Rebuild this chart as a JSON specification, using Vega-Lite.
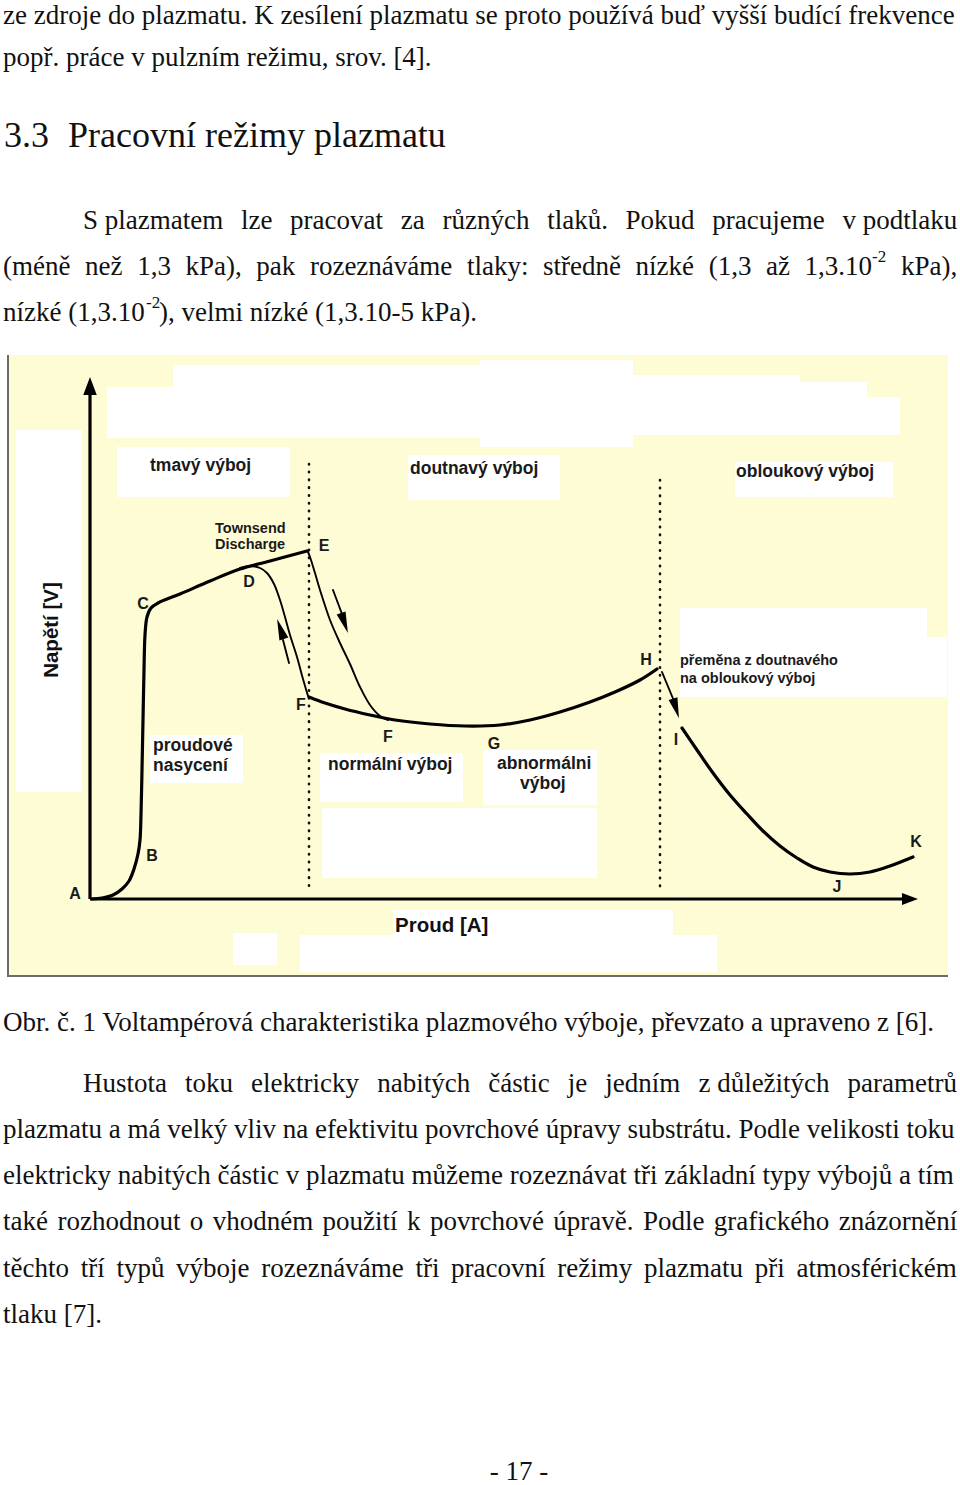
{
  "$schema": "https://vega.github.io/schema/vega-lite/v6.json",
  "width": 960,
  "height": 1485,
  "autosize": {"type": "none"},
  "padding": 0,
  "background": "#ffffff",
  "config": {"view": {"stroke": null}},
  "encoding": {
    "x": {"field": "x", "type": "quantitative", "scale": {"domain": [0, 960], "nice": false, "zero": false}, "axis": null},
    "y": {"field": "y", "type": "quantitative", "scale": {"domain": [0, 1485], "reverse": true, "nice": false, "zero": false}, "axis": null}
  },
  "layer": [
    {
      "data": {"values": [{"x": 9, "x2": 948, "y": 355, "y2": 976}]},
      "mark": {"type": "rect", "color": "#FEFCD5"},
      "encoding": {"x2": {"field": "x2"}, "y2": {"field": "y2"}}
    },
    {
      "data": {"values": [
        {"x": 107, "x2": 480, "y": 387, "y2": 438},
        {"x": 173, "x2": 480, "y": 365, "y2": 390},
        {"x": 480, "x2": 633, "y": 360, "y2": 447},
        {"x": 633, "x2": 800, "y": 375, "y2": 435},
        {"x": 800, "x2": 867, "y": 382, "y2": 435},
        {"x": 867, "x2": 900, "y": 397, "y2": 435},
        {"x": 117, "x2": 290, "y": 447, "y2": 497},
        {"x": 408, "x2": 560, "y": 455, "y2": 500},
        {"x": 735, "x2": 893, "y": 462, "y2": 497},
        {"x": 16, "x2": 82, "y": 430, "y2": 792},
        {"x": 680, "x2": 927, "y": 608, "y2": 637},
        {"x": 680, "x2": 947, "y": 637, "y2": 697},
        {"x": 150, "x2": 243, "y": 735, "y2": 783},
        {"x": 320, "x2": 463, "y": 753, "y2": 802},
        {"x": 483, "x2": 597, "y": 750, "y2": 805},
        {"x": 322, "x2": 597, "y": 808, "y2": 878},
        {"x": 393, "x2": 673, "y": 910, "y2": 937},
        {"x": 300, "x2": 717, "y": 935, "y2": 972},
        {"x": 233, "x2": 277, "y": 933, "y2": 965}
      ]},
      "mark": {"type": "rect", "color": "#ffffff"},
      "encoding": {"x2": {"field": "x2"}, "y2": {"field": "y2"}}
    },
    {
      "data": {"values": [
        {"x": 8, "x2": 8, "y": 355, "y2": 977},
        {"x": 8, "x2": 948, "y": 976, "y2": 976}
      ]},
      "mark": {"type": "rule", "color": "#6b6b6b", "strokeWidth": 2},
      "encoding": {"x2": {"field": "x2"}, "y2": {"field": "y2"}}
    },
    {
      "data": {"values": [
        {"x": 309, "x2": 309, "y": 464, "y2": 892},
        {"x": 660, "x2": 660, "y": 480, "y2": 892}
      ]},
      "mark": {"type": "rule", "color": "#111111", "strokeWidth": 2.6, "strokeCap": "round", "strokeDash": [0.5, 7.3]},
      "encoding": {"x2": {"field": "x2"}, "y2": {"field": "y2"}}
    },
    {
      "data": {"values": [
        {"x": 90, "x2": 90, "y": 899, "y2": 392},
        {"x": 90, "x2": 904, "y": 899, "y2": 899}
      ]},
      "mark": {"type": "rule", "color": "#000000", "strokeWidth": 3.2},
      "encoding": {"x2": {"field": "x2"}, "y2": {"field": "y2"}}
    },
    {
      "data": {"values": [
        {"s": "AE", "o": 1, "x": 92, "y": 899},
        {"s": "AE", "o": 2, "x": 102, "y": 898},
        {"s": "AE", "o": 3, "x": 113, "y": 895},
        {"s": "AE", "o": 4, "x": 122, "y": 889},
        {"s": "AE", "o": 5, "x": 129, "y": 881},
        {"s": "AE", "o": 6, "x": 134, "y": 869},
        {"s": "AE", "o": 7, "x": 138, "y": 854},
        {"s": "AE", "o": 8, "x": 140, "y": 840},
        {"s": "AE", "o": 9, "x": 141, "y": 815},
        {"s": "AE", "o": 10, "x": 142, "y": 770},
        {"s": "AE", "o": 11, "x": 143, "y": 720},
        {"s": "AE", "o": 12, "x": 144, "y": 670},
        {"s": "AE", "o": 13, "x": 145, "y": 635},
        {"s": "AE", "o": 14, "x": 147, "y": 617},
        {"s": "AE", "o": 15, "x": 151, "y": 608},
        {"s": "AE", "o": 16, "x": 158, "y": 603},
        {"s": "AE", "o": 17, "x": 180, "y": 594},
        {"s": "AE", "o": 18, "x": 210, "y": 581},
        {"s": "AE", "o": 19, "x": 240, "y": 569},
        {"s": "AE", "o": 20, "x": 270, "y": 561},
        {"s": "AE", "o": 21, "x": 307, "y": 551},
        {"s": "FH", "o": 1, "x": 309, "y": 697},
        {"s": "FH", "o": 2, "x": 325, "y": 703},
        {"s": "FH", "o": 3, "x": 345, "y": 709},
        {"s": "FH", "o": 4, "x": 370, "y": 715},
        {"s": "FH", "o": 5, "x": 395, "y": 720},
        {"s": "FH", "o": 6, "x": 430, "y": 724},
        {"s": "FH", "o": 7, "x": 465, "y": 726},
        {"s": "FH", "o": 8, "x": 500, "y": 725},
        {"s": "FH", "o": 9, "x": 530, "y": 720},
        {"s": "FH", "o": 10, "x": 560, "y": 712},
        {"s": "FH", "o": 11, "x": 590, "y": 702},
        {"s": "FH", "o": 12, "x": 615, "y": 692},
        {"s": "FH", "o": 13, "x": 640, "y": 680},
        {"s": "FH", "o": 14, "x": 657, "y": 669},
        {"s": "IK", "o": 1, "x": 682, "y": 728},
        {"s": "IK", "o": 2, "x": 697, "y": 750},
        {"s": "IK", "o": 3, "x": 713, "y": 773},
        {"s": "IK", "o": 4, "x": 730, "y": 795},
        {"s": "IK", "o": 5, "x": 747, "y": 814},
        {"s": "IK", "o": 6, "x": 763, "y": 831},
        {"s": "IK", "o": 7, "x": 780, "y": 846},
        {"s": "IK", "o": 8, "x": 797, "y": 858},
        {"s": "IK", "o": 9, "x": 813, "y": 867},
        {"s": "IK", "o": 10, "x": 830, "y": 872},
        {"s": "IK", "o": 11, "x": 850, "y": 874},
        {"s": "IK", "o": 12, "x": 870, "y": 872},
        {"s": "IK", "o": 13, "x": 890, "y": 866},
        {"s": "IK", "o": 14, "x": 913, "y": 857}
      ]},
      "mark": {"type": "line", "color": "#000000", "strokeWidth": 3.2, "interpolate": "catmull-rom", "strokeCap": "round", "strokeJoin": "round"},
      "encoding": {"order": {"field": "o", "type": "quantitative"}, "detail": {"field": "s"}}
    },
    {
      "data": {"values": [
        {"s": "EF", "o": 1, "x": 308, "y": 552},
        {"s": "EF", "o": 2, "x": 310, "y": 557},
        {"s": "EF", "o": 3, "x": 315, "y": 573},
        {"s": "EF", "o": 4, "x": 320, "y": 590},
        {"s": "EF", "o": 5, "x": 330, "y": 620},
        {"s": "EF", "o": 6, "x": 340, "y": 643},
        {"s": "EF", "o": 7, "x": 350, "y": 664},
        {"s": "EF", "o": 8, "x": 360, "y": 687},
        {"s": "EF", "o": 9, "x": 370, "y": 705},
        {"s": "EF", "o": 10, "x": 380, "y": 716},
        {"s": "EF", "o": 11, "x": 388, "y": 720},
        {"s": "DF", "o": 1, "x": 240, "y": 568},
        {"s": "DF", "o": 2, "x": 250, "y": 566},
        {"s": "DF", "o": 3, "x": 260, "y": 568},
        {"s": "DF", "o": 4, "x": 267, "y": 573},
        {"s": "DF", "o": 5, "x": 274, "y": 584},
        {"s": "DF", "o": 6, "x": 280, "y": 600},
        {"s": "DF", "o": 7, "x": 285, "y": 617},
        {"s": "DF", "o": 8, "x": 290, "y": 635},
        {"s": "DF", "o": 9, "x": 297, "y": 657},
        {"s": "DF", "o": 10, "x": 303, "y": 679},
        {"s": "DF", "o": 11, "x": 308, "y": 696},
        {"s": "aE", "o": 1, "x": 333, "y": 590},
        {"s": "aE", "o": 2, "x": 342, "y": 614},
        {"s": "aD", "o": 1, "x": 289, "y": 663},
        {"s": "aD", "o": 2, "x": 283, "y": 640},
        {"s": "aH", "o": 1, "x": 662, "y": 672},
        {"s": "aH", "o": 2, "x": 674, "y": 701}
      ]},
      "mark": {"type": "line", "color": "#000000", "strokeWidth": 1.9, "interpolate": "catmull-rom", "strokeCap": "round"},
      "encoding": {"order": {"field": "o", "type": "quantitative"}, "detail": {"field": "s"}}
    },
    {
      "data": {"values": [{"id": "yaxis", "x": 90, "y": 386}]},
      "mark": {"type": "point", "shape": "M0,-1L0.75,1L-0.75,1Z", "filled": true, "color": "#000000", "opacity": 1, "size": 324, "angle": 0}
    },
    {
      "data": {"values": [{"id": "xaxis", "x": 910, "y": 899}]},
      "mark": {"type": "point", "shape": "M0,-1L0.75,1L-0.75,1Z", "filled": true, "color": "#000000", "opacity": 1, "size": 256, "angle": 90}
    },
    {
      "data": {"values": [{"id": "arrE", "x": 344.5, "y": 623}]},
      "mark": {"type": "point", "shape": "M0,-1L0.45,1L-0.45,1Z", "filled": true, "color": "#000000", "opacity": 1, "size": 440, "angle": 161}
    },
    {
      "data": {"values": [{"id": "arrD", "x": 280.5, "y": 629}]},
      "mark": {"type": "point", "shape": "M0,-1L0.45,1L-0.45,1Z", "filled": true, "color": "#000000", "opacity": 1, "size": 440, "angle": 341}
    },
    {
      "data": {"values": [{"id": "arrH", "x": 676, "y": 708.5}]},
      "mark": {"type": "point", "shape": "M0,-1L0.45,1L-0.45,1Z", "filled": true, "color": "#000000", "opacity": 1, "size": 420, "angle": 163}
    },
    {
      "data": {"values": [
        {"t": "ze zdroje do plazmatu. K zesílení plazmatu se proto používá buď vyšší budící frekvence", "x": 3, "y": 24},
        {"t": "popř. práce v pulzním režimu, srov. [4].", "x": 3, "y": 66},
        {"t": "S plazmatem", "x": 83, "y": 229},
        {"t": "lze", "x": 240.9, "y": 229},
        {"t": "pracovat", "x": 290.1, "y": 229},
        {"t": "za", "x": 400.8, "y": 229},
        {"t": "různých", "x": 442.5, "y": 229},
        {"t": "tlaků.", "x": 547.2, "y": 229},
        {"t": "Pokud", "x": 625.6, "y": 229},
        {"t": "pracujeme", "x": 712.3, "y": 229},
        {"t": "v podtlaku", "x": 842.5, "y": 229},
        {"t": "(méně", "x": 3, "y": 275},
        {"t": "než", "x": 85.1, "y": 275},
        {"t": "1,3", "x": 137.2, "y": 275},
        {"t": "kPa),", "x": 185.5, "y": 275},
        {"t": "pak", "x": 256.3, "y": 275},
        {"t": "rozeznáváme", "x": 309.9, "y": 275},
        {"t": "tlaky:", "x": 466.9, "y": 275},
        {"t": "středně", "x": 543.0, "y": 275},
        {"t": "nízké", "x": 635.6, "y": 275},
        {"t": "(1,3", "x": 708.7, "y": 275},
        {"t": "až", "x": 766.0, "y": 275},
        {"t": "1,3.10", "x": 804.6, "y": 275},
        {"t": "kPa),", "x": 900.9, "y": 275},
        {"t": "nízké (1,3.10", "x": 3, "y": 321},
        {"t": "), velmi nízké (1,3.10-5 kPa).", "x": 159, "y": 321},
        {"t": "Obr. č. 1 Voltampérová charakteristika plazmového výboje, převzato a upraveno z [6].", "x": 3, "y": 1031},
        {"t": "Hustota", "x": 83, "y": 1092},
        {"t": "toku", "x": 185.1, "y": 1092},
        {"t": "elektricky", "x": 251.1, "y": 1092},
        {"t": "nabitých", "x": 377.2, "y": 1092},
        {"t": "částic", "x": 488.2, "y": 1092},
        {"t": "je", "x": 567.8, "y": 1092},
        {"t": "jedním", "x": 605.3, "y": 1092},
        {"t": "z důležitých", "x": 698.4, "y": 1092},
        {"t": "parametrů", "x": 847.6, "y": 1092},
        {"t": "plazmatu a má velký vliv na efektivitu povrchové úpravy substrátu. Podle velikosti toku", "x": 3, "y": 1138},
        {"t": "elektricky nabitých částic v plazmatu můžeme rozeznávat tři základní typy výbojů a tím", "x": 3, "y": 1184},
        {"t": "také", "x": 3, "y": 1230},
        {"t": "rozhodnout", "x": 57.4, "y": 1230},
        {"t": "o", "x": 189.8, "y": 1230},
        {"t": "vhodném", "x": 212.7, "y": 1230},
        {"t": "použití", "x": 322.6, "y": 1230},
        {"t": "k", "x": 407.0, "y": 1230},
        {"t": "povrchové", "x": 429.9, "y": 1230},
        {"t": "úpravě.", "x": 553.3, "y": 1230},
        {"t": "Podle", "x": 642.9, "y": 1230},
        {"t": "grafického", "x": 713.8, "y": 1230},
        {"t": "znázornění", "x": 838.7, "y": 1230},
        {"t": "těchto", "x": 3, "y": 1277},
        {"t": "tří", "x": 80.7, "y": 1277},
        {"t": "typů", "x": 116.4, "y": 1277},
        {"t": "výboje", "x": 176.1, "y": 1277},
        {"t": "rozeznáváme", "x": 261.3, "y": 1277},
        {"t": "tři", "x": 415.4, "y": 1277},
        {"t": "pracovní", "x": 451.1, "y": 1277},
        {"t": "režimy", "x": 557.3, "y": 1277},
        {"t": "plazmatu", "x": 644.0, "y": 1277},
        {"t": "při", "x": 754.7, "y": 1277},
        {"t": "atmosférickém", "x": 796.4, "y": 1277},
        {"t": "tlaku [7].", "x": 3, "y": 1323}
      ]},
      "mark": {"type": "text", "font": "Liberation Serif", "fontSize": 27, "align": "left", "baseline": "alphabetic", "color": "#111111"},
      "encoding": {"text": {"field": "t"}}
    },
    {
      "data": {"values": [
        {"t": "-2", "x": 872, "y": 262},
        {"t": "-2", "x": 146, "y": 308}
      ]},
      "mark": {"type": "text", "font": "Liberation Serif", "fontSize": 17, "align": "left", "baseline": "alphabetic", "color": "#111111"},
      "encoding": {"text": {"field": "t"}}
    },
    {
      "data": {"values": [
        {"t": "3.3", "x": 4, "y": 147},
        {"t": "Pracovní režimy plazmatu", "x": 68, "y": 147}
      ]},
      "mark": {"type": "text", "font": "Liberation Serif", "fontSize": 36, "align": "left", "baseline": "alphabetic", "color": "#111111"},
      "encoding": {"text": {"field": "t"}}
    },
    {
      "data": {"values": [{"t": "- 17 -", "x": 519, "y": 1480}]},
      "mark": {"type": "text", "font": "Liberation Serif", "fontSize": 27, "align": "center", "baseline": "alphabetic", "color": "#111111"},
      "encoding": {"text": {"field": "t"}}
    },
    {
      "data": {"values": [
        {"t": "tmavý výboj", "x": 150, "y": 471},
        {"t": "doutnavý výboj", "x": 410, "y": 474},
        {"t": "obloukový výboj", "x": 736, "y": 477},
        {"t": "proudové", "x": 153, "y": 751},
        {"t": "nasycení", "x": 153, "y": 771},
        {"t": "normální výboj", "x": 328, "y": 770},
        {"t": "abnormálni", "x": 497, "y": 769},
        {"t": "výboj", "x": 520, "y": 789}
      ]},
      "mark": {"type": "text", "font": "Liberation Sans", "fontWeight": "bold", "fontSize": 17.5, "align": "left", "baseline": "alphabetic", "color": "#1a1a1a"},
      "encoding": {"text": {"field": "t"}}
    },
    {
      "data": {"values": [
        {"t": "Townsend", "x": 215, "y": 533},
        {"t": "Discharge", "x": 215, "y": 549}
      ]},
      "mark": {"type": "text", "font": "Liberation Sans", "fontWeight": "bold", "fontSize": 14.5, "align": "left", "baseline": "alphabetic", "color": "#1a1a1a"},
      "encoding": {"text": {"field": "t"}}
    },
    {
      "data": {"values": [
        {"t": "přeměna z doutnavého", "x": 680, "y": 665},
        {"t": "na obloukový výboj", "x": 680, "y": 683}
      ]},
      "mark": {"type": "text", "font": "Liberation Sans", "fontWeight": "bold", "fontSize": 14.5, "align": "left", "baseline": "alphabetic", "color": "#1a1a1a"},
      "encoding": {"text": {"field": "t"}}
    },
    {
      "data": {"values": [
        {"t": "A", "x": 75, "y": 899},
        {"t": "B", "x": 152, "y": 861},
        {"t": "C", "x": 143, "y": 609},
        {"t": "D", "x": 249, "y": 587},
        {"t": "E", "x": 324, "y": 551},
        {"t": "F", "x": 301, "y": 710},
        {"t": "F", "x": 388, "y": 742},
        {"t": "G", "x": 494, "y": 749},
        {"t": "H", "x": 646, "y": 665},
        {"t": "I", "x": 676, "y": 745},
        {"t": "J", "x": 837, "y": 892},
        {"t": "K", "x": 916, "y": 847}
      ]},
      "mark": {"type": "text", "font": "Liberation Sans", "fontWeight": "bold", "fontSize": 16, "align": "center", "baseline": "alphabetic", "color": "#1a1a1a"},
      "encoding": {"text": {"field": "t"}}
    },
    {
      "data": {"values": [{"t": "Proud [A]", "x": 395, "y": 932}]},
      "mark": {"type": "text", "font": "Liberation Sans", "fontWeight": "bold", "fontSize": 20.5, "align": "left", "baseline": "alphabetic", "color": "#111111"},
      "encoding": {"text": {"field": "t"}}
    },
    {
      "data": {"values": [{"t": "Napětí [V]", "x": 52, "y": 630}]},
      "mark": {"type": "text", "font": "Liberation Sans", "fontWeight": "bold", "fontSize": 20.5, "align": "center", "baseline": "middle", "angle": 270, "color": "#111111"},
      "encoding": {"text": {"field": "t"}}
    }
  ]
}
